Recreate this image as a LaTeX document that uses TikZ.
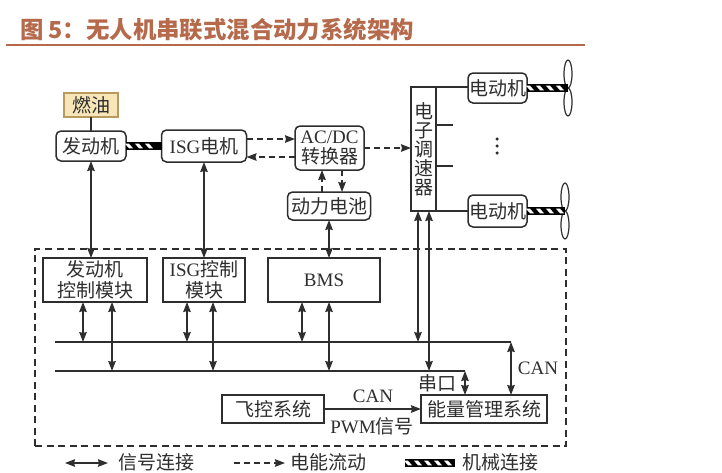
\documentclass[tikz,border=0pt]{standalone}
\usepackage{fontspec}
\setmainfont{Liberation Serif}
\newfontfamily\cjk{Noto Sans CJK SC}
\usetikzlibrary{arrows.meta,shapes.geometric,decorations.markings}
\definecolor{ink}{HTML}{2E2E2E}
\definecolor{titlec}{HTML}{B56A4C}
\definecolor{fuelfill}{HTML}{F9E6B8}
\definecolor{fuelline}{HTML}{B89A60}
\tikzset{
  tip/.tip={Stealth[length=10pt,width=7.5pt,inset=1pt]},
  lab/.style={font=\fontsize{19}{22}\selectfont,text=ink,inner sep=0pt,outer sep=0pt,align=center},
  rbox/.style={lab,draw=ink,line width=1.5pt,rounded corners=5pt,fill=white},
  sbox/.style={lab,draw=ink,line width=1.5pt,fill=white},
  wire/.style={draw=ink,line width=1.5pt},
  sig/.style={wire,-tip},
  sigtwo/.style={wire,tip-tip},
  power/.style={wire,dash pattern=on 6pt off 4pt,-tip},
  mechlink/.style={draw=black,line width=8pt,postaction={decorate},
    decoration={markings,mark=between positions 3pt and -3pt step 10pt with {
      \fill[white] (-4pt,2.3pt)--(0pt,2.3pt)--(4pt,-2.3pt)--(0pt,-2.3pt)--cycle;}}},
  blade/.style={ellipse,draw=ink,line width=1.2pt,fill=white,inner sep=0pt,outer sep=0pt,minimum width=8pt,minimum height=28pt},
  hint/.style={inner sep=0pt,minimum size=0pt,outer sep=0pt}
}
\begin{document}
\begin{tikzpicture}[x=1pt,y=-1pt]
\useasboundingbox (0,0) rectangle (722,472);
% title
\node[anchor=west,inner sep=0pt,text=titlec] (title) at (20,29.5)
  {\cjk\bfseries\fontsize{23.4}{26}\selectfont 图\hspace{5pt}5：无人机串联式混合动力系统架构};
\coordinate (ruleL) at (6,45);
\coordinate (ruleR) at (585,45);
\draw[titlec,line width=2.4pt] (ruleL) -- (ruleR);
% top row
\node[lab,draw=fuelline,fill=fuelfill,line width=1.2pt,minimum width=54pt,minimum height=24pt] (fuel) at (91,105) {\cjk 燃油};
\node[rbox,minimum width=70pt,minimum height=30pt] (engine) at (91,146) {\cjk 发动机};
\node[rbox,minimum width=85pt,minimum height=32pt] (isg) at (204,146) {ISG\cjk 电机};
\node[rbox,minimum width=69pt,minimum height=44pt,align=center,font=\fontsize{19}{21}\selectfont] (acdc) at (329.5,148) {AC/DC\\[-1pt]\cjk 转换器};
\node[rbox,minimum width=83pt,minimum height=28pt] (batt) at (329,206) {\cjk 动力电池};
\node[sbox,minimum width=25pt,minimum height=124pt,font=\fontsize{19}{19}\selectfont] (esc) at (423.5,149) {\cjk 电\\\cjk 子\\\cjk 调\\\cjk 速\\\cjk 器};
\node[rbox,minimum width=59pt,minimum height=30pt] (m1) at (497.5,88) {\cjk 电动机};
\node[rbox,minimum width=59pt,minimum height=32pt] (m2) at (497.5,211) {\cjk 电动机};
% propellers
\node[blade] (p1a) at (568,74) {};
\node[blade] (p1b) at (568,102) {};
\node[blade] (p2a) at (565,197) {};
\node[blade] (p2b) at (565,225) {};
\coordinate (hub1) at (p1a.south);
\coordinate (hub2) at (p2a.south);
% dots
\node[hint,fill=ink,circle,minimum size=3.5pt] (d1) at (497,139) {};
\node[hint,fill=ink,circle,minimum size=3.5pt] (d2) at (497,146) {};
\node[hint,fill=ink,circle,minimum size=3.5pt] (d3) at (497,153) {};
% dashed frame
\node[draw=ink,line width=1.2pt,dash pattern=on 7pt off 4.5pt,minimum width=531pt,minimum height=197pt,inner sep=0pt] (frame) at (300.5,347.5) {};
% lower blocks
\node[sbox,minimum width=104pt,minimum height=44pt,font=\fontsize{19}{21}\selectfont] (ecu) at (95,280) {\cjk 发动机\\\cjk 控制模块};
\node[sbox,minimum width=82pt,minimum height=44pt,font=\fontsize{19}{21}\selectfont] (icu) at (204,280) {ISG\cjk 控制\\\cjk 模块};
\node[sbox,minimum width=112pt,minimum height=44pt] (bms) at (324,280) {BMS};
\node[sbox,minimum width=102pt,minimum height=28pt] (fc) at (273,409) {\cjk 飞控系统};
\node[sbox,minimum width=126pt,minimum height=28pt] (ems) at (484,409) {\cjk 能量管理系统};
% engine side connectors
\draw[wire] (fuel.south) -- (engine.north);
\draw[mechlink] (engine.east) -- (isg.west);
\draw[power] (isg.east |- 0,139) -- (acdc.west |- 0,139);
\draw[power] (acdc.west |- 0,157) -- (isg.east |- 0,157);
\draw[power] (acdc.east) -- (esc.west |- acdc.east);
\draw[power] (batt.north -| 322,0) -- (acdc.south -| 322,0);
\draw[power] (acdc.south -| 342,0) -- (batt.north -| 342,0);
\draw[sigtwo] (engine.south) -- (engine.south |- ecu.north);
\draw[sigtwo] (isg.south) -- (isg.south |- icu.north);
\draw[sigtwo] (batt.south) -- (batt.south |- bms.north);
% esc to motors
\draw[wire] (esc.north east) -- (m1.west |- esc.north east);
\draw[wire] (esc.south east) -- (m2.west |- esc.south east);
\coordinate (s1) at (453,125);
\coordinate (s2) at (453,166);
\draw[wire] (esc.east |- s1) -- (s1);
\draw[wire] (esc.east |- s2) -- (s2);
\draw[mechlink] (m1.east) -- (hub1 |- m1.east);
\draw[mechlink] (m2.east) -- (hub2 |- m2.east);
% buses
\coordinate (b1L) at (55,342);
\coordinate (b1R) at (511,342);
\coordinate (b2L) at (55,371);
\coordinate (b2R) at (465,371);
\draw[wire] (b1L) -- (b1R);
\draw[wire] (b2L) -- (b2R);
\draw[sigtwo] (b1R) -- (b1R |- ems.north);
\draw[sigtwo] (b2R) -- (b2R |- ems.north);
\draw[sigtwo] (ecu.south -| 83,0) -- (b1L -| 83,0);
\draw[sigtwo] (ecu.south -| 112,0) -- (b2L -| 112,0);
\draw[sigtwo] (icu.south -| 187,0) -- (b1L -| 187,0);
\draw[sigtwo] (icu.south -| 213,0) -- (b2L -| 213,0);
\draw[sigtwo] (bms.south -| 302,0) -- (b1L -| 302,0);
\draw[sigtwo] (bms.south -| 329,0) -- (b2L -| 329,0);
\draw[sigtwo] (esc.south -| 418,0) -- (b1L -| 418,0);
\draw[sigtwo] (esc.south -| 429,0) -- (b2L -| 429,0);
\draw[sig] (fc.east) -- (ems.west |- fc.east);
% labels
\node[lab] (lcan1) at (373,396) {CAN};
\node[lab] (lpwm) at (372,426.5) {PWM\cjk 信号};
\node[lab] (lport) at (437,383) {\cjk 串口};
\node[lab] (lcan2) at (538,368) {CAN};
% legend
\coordinate (l1a) at (65,463);
\coordinate (l1b) at (108,463);
\coordinate (l2a) at (234,463);
\coordinate (l2b) at (285,463);
\coordinate (l3a) at (405,463);
\coordinate (l3b) at (455,463);
\draw[sigtwo] (l1a) -- (l1b);
\draw[power] (l2a) -- (l2b);
\draw[mechlink] (l3a) -- (l3b);
\node[lab,anchor=west] (t1) at (118,462) {\cjk 信号连接};
\node[lab,anchor=west] (t2) at (290,462) {\cjk 电能流动};
\node[lab,anchor=west] (t3) at (462,462) {\cjk 机械连接};
\end{tikzpicture}
\end{document}
